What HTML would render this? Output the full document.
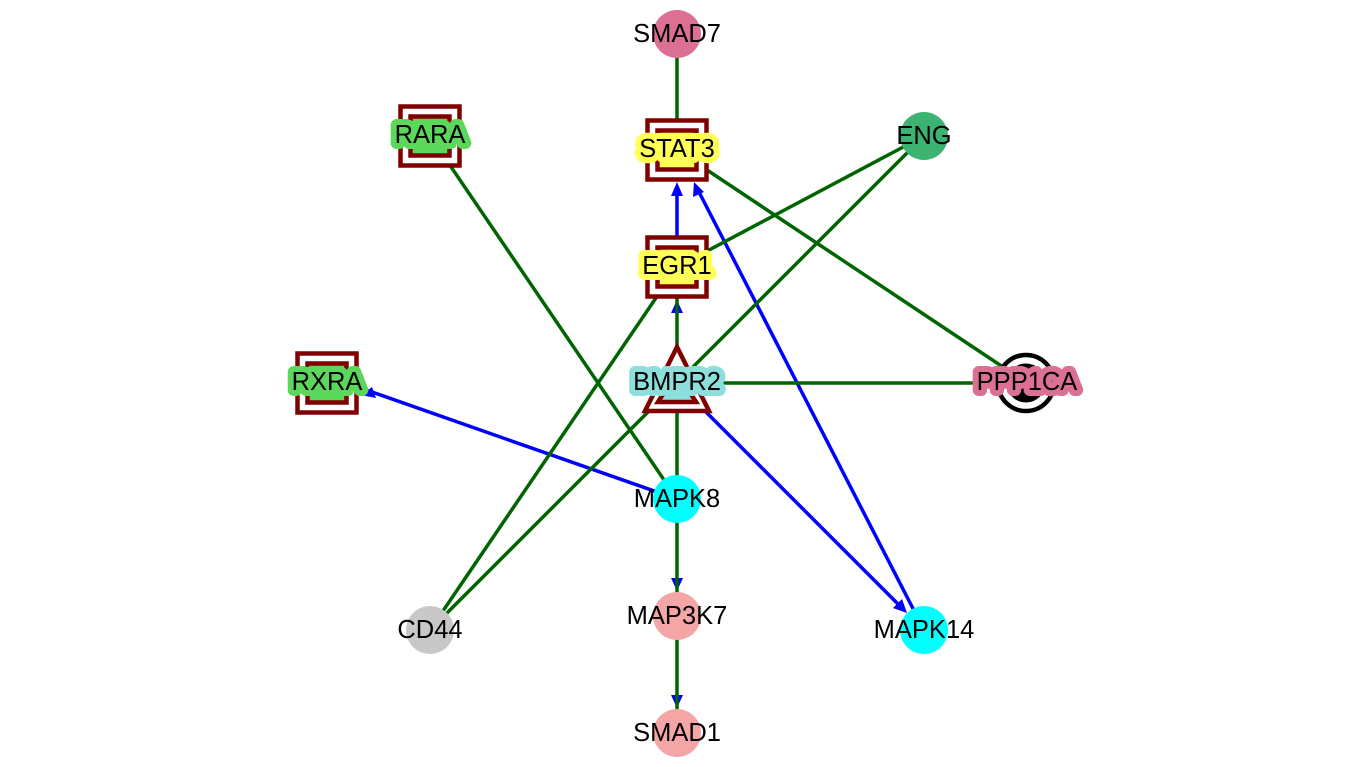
<!DOCTYPE html>
<html><head><meta charset="utf-8"><style>
html,body{margin:0;padding:0;background:#fff;}
svg{display:block;}
text{font-family:"Liberation Sans",sans-serif;font-size:25.5px;text-anchor:middle;fill:#000;}
.lb{stroke-width:12;stroke-linejoin:round;paint-order:stroke;}
</style></head><body>
<svg width="1369" height="767" viewBox="0 0 1369 767" xmlns="http://www.w3.org/2000/svg">
<!-- blue edges -->
<g stroke="#0000ff" stroke-width="3.5" fill="none">
<line x1="677" y1="267" x2="677" y2="192"/>
<line x1="924" y1="630" x2="699" y2="192"/>
<line x1="677" y1="499" x2="372" y2="392"/>
<line x1="677" y1="383" x2="900" y2="606"/>
</g>
<g fill="#0000ff">
<polygon points="677,182 671,196 683,196"/>
<polygon points="694,182 693,197 704,192"/>
<polygon points="361,395 376,398 372,387"/>
<polygon points="907,613 902,599 893,608"/>
<polygon points="677,300 671,313 683,313"/>
<polygon points="677,591 671,578 683,578"/>
<polygon points="677,708 671,695 683,695"/>
</g>
<!-- green edges -->
<g stroke="#006400" stroke-width="3.5" fill="none">
<line x1="677" y1="34" x2="677" y2="150"/>
<line x1="677" y1="150" x2="1027" y2="383"/>
<line x1="677" y1="267" x2="924" y2="136"/>
<line x1="677" y1="383" x2="924" y2="136"/>
<line x1="677" y1="383" x2="1027" y2="383"/>
<line x1="677" y1="267" x2="430" y2="630"/>
<line x1="677" y1="383" x2="430" y2="630"/>
<line x1="430" y1="136" x2="677" y2="499"/>
<line x1="677" y1="383" x2="677" y2="499"/>
<line x1="677" y1="267" x2="677" y2="312"/>
<line x1="677" y1="312" x2="677" y2="383"/>
<line x1="677" y1="499" x2="677" y2="616"/>
<line x1="677" y1="616" x2="677" y2="733"/>
</g>
<!-- circle nodes -->
<circle cx="677" cy="34" r="24" fill="#db7093"/>
<circle cx="924" cy="136" r="24" fill="#3cb371"/>
<circle cx="677" cy="499" r="24" fill="#00ffff"/>
<circle cx="430" cy="630" r="24" fill="#c8c8c8"/>
<circle cx="677" cy="616" r="24" fill="#f4a6a6"/>
<circle cx="924" cy="630" r="24" fill="#00ffff"/>
<circle cx="677" cy="733" r="24" fill="#f4a6a6"/>
<!-- square nodes -->
<g stroke="#800000" stroke-width="4.5">
<rect x="400.5" y="106.5" width="59" height="59" fill="#fff"/>
<rect x="410.5" y="116.5" width="39" height="39" fill="#5bd75b"/>
<rect x="647.5" y="120.5" width="59" height="59" fill="#fff"/>
<rect x="657.5" y="130.5" width="39" height="39" fill="#ffff55"/>
<rect x="647.5" y="237.5" width="59" height="59" fill="#fff"/>
<rect x="657.5" y="247.5" width="39" height="39" fill="#ffff55"/>
<rect x="297.5" y="353.5" width="59" height="59" fill="#fff"/>
<rect x="307.5" y="363.5" width="39" height="39" fill="#5bd75b"/>
<polygon points="677,347 709,411 645,411" fill="#fff" stroke-linejoin="miter"/>
<polygon points="677,372 696,402 658,402" fill="#8ddfdc"/>
</g>
<!-- PPP1CA -->
<circle cx="1026" cy="383" r="28" fill="#fff" stroke="#000" stroke-width="4.5"/>
<circle cx="1026" cy="383" r="17" fill="#000" stroke="#000" stroke-width="5"/>
<!-- labels -->
<text x="677" y="42">SMAD7</text>
<text x="924" y="144">ENG</text>
<text x="677" y="507">MAPK8</text>
<text x="430" y="638">CD44</text>
<text x="677" y="624">MAP3K7</text>
<text x="924" y="638">MAPK14</text>
<text x="677" y="741">SMAD1</text>
<text class="lb" x="430" y="143" stroke="#5bd75b">RARA</text>
<text class="lb" x="677" y="157" stroke="#ffff55">STAT3</text>
<text class="lb" x="677" y="274" stroke="#ffff55">EGR1</text>
<text class="lb" x="327" y="390" stroke="#5bd75b">RXRA</text>
<text class="lb" x="677" y="390" stroke="#8ddfdc">BMPR2</text>
<text class="lb" x="1027" y="390" stroke="#db7093">PPP1CA</text>
</svg>
</body></html>
